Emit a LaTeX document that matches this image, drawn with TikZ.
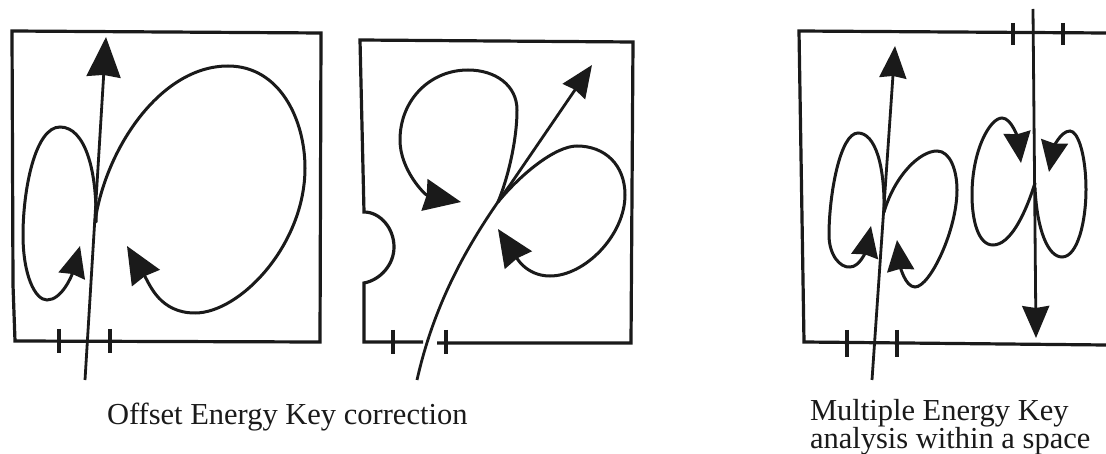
\documentclass[tikz,border=0pt]{standalone}
\usepackage{fontspec}
\setmainfont{Liberation Serif}
\usetikzlibrary{arrows.meta}
\definecolor{ink}{HTML}{1A1A1A}
\tikzset{
  frameline/.style={line width=3.2pt,draw=ink,line join=miter},
  tickline/.style={line width=3.4pt,draw=ink},
  curveline/.style={line width=3pt,draw=ink,line cap=round},
  axisbig/.style={line width=2.8pt,draw=ink,-{Stealth[inset=2pt,length=40pt,width=34pt]}},
  axismid/.style={line width=2.8pt,draw=ink,-{Stealth[inset=2pt,length=32pt,width=27pt]}},
  headA/.style={-{Stealth[inset=2pt,length=37pt,width=32pt]}},
  headB/.style={-{Stealth[inset=2pt,length=31pt,width=27pt]}},
  caption/.style={font=\fontsize{30.5}{31}\selectfont,text=ink,anchor=base west,inner sep=0pt,outer sep=0pt}
}
\begin{document}
\begin{tikzpicture}[x=1pt,y=-1pt]
\useasboundingbox (0,0) rectangle (1106,454);
\fill[white] (0,0) rectangle (1106,454);
% panel 1
\draw[frameline] (12,31) -- (321,33) -- (320,342) -- (15,341) -- (13,285) -- cycle;
\draw[tickline] (59,329) -- (59,353);
\draw[tickline] (110,329) -- (110,353);
\coordinate (a1s) at (85,380);
\coordinate (a1e) at (106,37);
\draw[axisbig] (a1s) -- (a1e);
\draw[curveline,headA] (95,222) .. controls (105,150) and (160,66) .. (228,66) .. controls (280,66) and (305,120) .. (305,168) .. controls (305,245) and (240,313) .. (195,313) .. controls (160,313) and (150,285) .. (127,246);
\draw[curveline,headB] (96,222) .. controls (97,170) and (85,127) .. (60,127) .. controls (35,127) and (23,190) .. (23,235) .. controls (23,275) and (35,300) .. (47,300) .. controls (62,300) and (72,275) .. (80,246);
% panel 2
\draw[frameline] (423,342) -- (364,342) -- (364,283) .. controls (380,280) and (394,265) .. (394,247) .. controls (394,228) and (380,212) .. (364,212) -- (360,40) -- (633,42) -- (631,343) -- (437,343);
\draw[tickline] (393,330) -- (393,354);
\draw[tickline] (446,330) -- (446,354);
\coordinate (a2e) at (592,65);
\draw[axismid] (417,380) .. controls (435,300) and (470,240) .. (510,185) -- (a2e);
\draw[curveline,headA] (498,202) .. controls (508,178) and (517,140) .. (517,110) .. controls (517,85) and (495,70) .. (468,70) .. controls (430,70) and (400,100) .. (400,140) .. controls (400,170) and (425,195) .. (461,202);
\draw[curveline,headA] (498,202) .. controls (520,175) and (555,146) .. (577,146) .. controls (605,146) and (625,165) .. (625,195) .. controls (625,235) and (585,276) .. (550,276) .. controls (525,276) and (515,255) .. (498,229);
% panel 3
\draw[frameline] (1106,33) -- (799,31) -- (804,342) -- (1106,345);
\draw[tickline] (847,330) -- (847,357);
\draw[tickline] (897,330) -- (897,357);
\draw[tickline] (1013,23) -- (1013,45);
\draw[tickline] (1063,23) -- (1063,45);
\coordinate (a3s) at (872,380);
\coordinate (a3e) at (895,46);
\draw[axismid] (a3s) -- (a3e);
\coordinate (a4s) at (1033,9);
\coordinate (a4e) at (1036,338);
\draw[axismid] (a4s) -- (a4e);
\draw[curveline,headB] (884,212) .. controls (885,165) and (875,133) .. (858,133) .. controls (840,133) and (829,195) .. (829,235) .. controls (829,255) and (840,268) .. (850,267) .. controls (860,267) and (866,250) .. (871,226);
\draw[curveline,headB] (884,212) .. controls (895,175) and (920,151) .. (937,151) .. controls (950,151) and (957,170) .. (957,190) .. controls (957,230) and (930,287) .. (915,287) .. controls (905,287) and (900,265) .. (897,240);
\draw[curveline,headB] (1035,183) .. controls (1025,215) and (1010,245) .. (993,245) .. controls (978,245) and (972,220) .. (972,195) .. controls (972,150) and (990,118) .. (1002,118) .. controls (1012,118) and (1018,140) .. (1021,163);
\draw[curveline,headB] (1035,188) .. controls (1037,230) and (1048,257) .. (1062,257) .. controls (1078,257) and (1086,220) .. (1086,190) .. controls (1086,155) and (1078,131) .. (1070,131) .. controls (1060,131) and (1053,150) .. (1049,172);
% captions
\node[caption] (c1) at (107,424) {Offset Energy Key correction};
\node[caption] (c2) at (810,420) {Multiple Energy Key};
\node[caption] (c3) at (810,448) {analysis within a space};
\end{tikzpicture}
\end{document}
